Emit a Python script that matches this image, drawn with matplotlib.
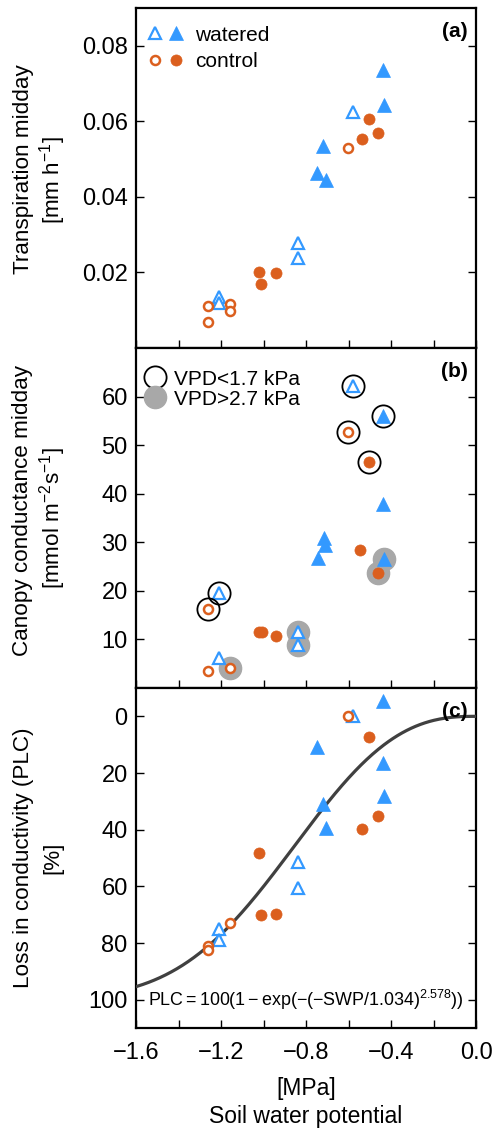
import matplotlib
matplotlib.use("Agg")
import matplotlib.pyplot as plt
import numpy as np
from matplotlib.lines import Line2D
from matplotlib.legend_handler import HandlerTuple

plt.rcParams["font.family"] = ["Liberation Sans", "DejaVu Sans"]
plt.rcParams["mathtext.fontset"] = "custom"
plt.rcParams["mathtext.rm"] = "Liberation Sans"
plt.rcParams["mathtext.it"] = "Liberation Sans:italic"
plt.rcParams["mathtext.bf"] = "Liberation Sans:bold"

BLUE = "#3399FF"
ORANGE = "#DB5F1E"
GREY = "#A8A8A8"

# (a) transpiration midday [mm h-1]
a_wat_open_x = [-1.209, -1.209, -0.839, -0.839, -0.580]
a_wat_open_y = [0.0135, 0.0118, 0.0279, 0.0239, 0.0626]
a_wat_fill_x = [-0.439, -0.431, -0.718, -0.750, -0.707]
a_wat_fill_y = [0.0736, 0.0643, 0.0535, 0.0462, 0.0445]
a_con_open_x = [-1.263, -1.263, -1.158, -1.158, -0.601]
a_con_open_y = [0.0112, 0.0069, 0.0116, 0.0099, 0.0530]
a_con_fill_x = [-1.020, -1.012, -0.941, -0.502, -0.538, -0.460]
a_con_fill_y = [0.0200, 0.0169, 0.0198, 0.0607, 0.0552, 0.0570]

# (b) canopy conductance midday [mmol m-2 s-1]
b_wat_open_x = [-0.580, -1.209, -0.839, -0.839, -1.209]
b_wat_open_y = [62.2, 19.5, 11.5, 8.9, 6.1]
b_wat_fill_x = [-0.439, -0.439, -0.714, -0.709, -0.745, -0.431]
b_wat_fill_y = [56.0, 37.8, 30.8, 29.4, 26.7, 26.6]
b_con_open_x = [-0.601, -1.263, -1.263, -1.158]
b_con_open_y = [52.8, 16.3, 3.4, 4.2]
b_con_fill_x = [-0.502, -0.545, -0.460, -1.020, -1.005, -0.941]
b_con_fill_y = [46.5, 28.5, 23.6, 11.6, 11.6, 10.7]
low_vpd_x = [-0.580, -0.439, -0.601, -0.502, -1.209, -1.263]
low_vpd_y = [62.2, 56.0, 52.8, 46.5, 19.5, 16.3]
high_vpd_x = [-0.431, -0.460, -0.839, -0.839, -1.158]
high_vpd_y = [26.6, 23.6, 11.5, 8.9, 4.2]

# (c) loss in conductivity [%]
c_wat_open_x = [-0.580, -0.839, -0.839, -1.209, -1.209]
c_wat_open_y = [0.0, 51.3, 60.5, 75.1, 78.9]
c_wat_fill_x = [-0.439, -0.750, -0.439, -0.431, -0.718, -0.707]
c_wat_fill_y = [-5.5, 10.9, 16.4, 28.2, 31.1, 39.3]
c_con_open_x = [-0.601, -1.158, -1.263, -1.263]
c_con_open_y = [0.0, 72.9, 81.0, 82.4]
c_con_fill_x = [-0.502, -0.460, -0.538, -1.020, -1.012, -0.941]
c_con_fill_y = [7.3, 35.2, 39.7, 48.3, 70.2, 69.8]

# fitted vulnerability curve
plc_b = 1.034
plc_c = 2.578

x_ticks = [-1.6, -1.4, -1.2, -1.0, -0.8, -0.6, -0.4, -0.2, 0.0]
x_labels = ["\u22121.6", "", "\u22121.2", "", "\u22120.8", "", "\u22120.4", "", "0.0"]


def draw_groups(ax, wo, wf, co, cf):
    ax.plot(*wo, ls="none", marker="^", ms=9, mfc="white", mec=BLUE, mew=1.6, zorder=4)
    ax.plot(*wf, ls="none", marker="^", ms=10, mfc=BLUE, mec=BLUE, mew=0.5, zorder=4)
    ax.plot(*co, ls="none", marker="o", ms=6.5, mfc="white", mec=ORANGE, mew=1.8, zorder=4)
    ax.plot(*cf, ls="none", marker="o", ms=8, mfc=ORANGE, mec=ORANGE, mew=0.5, zorder=4)


def style_axis(ax):
    ax.set_xlim(-1.6, 0.0)
    ax.set_xticks(x_ticks)
    ax.tick_params(axis="both", direction="in", length=6, width=1, labelsize=17, pad=6)
    ax.tick_params(axis="y", left=True, right=True)
    ax.tick_params(axis="x", top=False)
    for sp in ax.spines.values():
        sp.set_linewidth(1.6)


fig = plt.figure(figsize=(4.94, 11.38), dpi=100)
left, width = 136 / 494, 340 / 494
h = 340 / 1138
ax_a = fig.add_axes([left, 1 - 348 / 1138, width, h])
ax_b = fig.add_axes([left, 1 - 688 / 1138, width, h])
ax_c = fig.add_axes([left, 1 - 1028 / 1138, width, h])

# panel a
draw_groups(ax_a, (a_wat_open_x, a_wat_open_y), (a_wat_fill_x, a_wat_fill_y),
            (a_con_open_x, a_con_open_y), (a_con_fill_x, a_con_fill_y))
style_axis(ax_a)
ax_a.set_ylim(0, 0.09)
ax_a.set_yticks([0.02, 0.04, 0.06, 0.08])
ax_a.set_yticklabels(["0.02", "0.04", "0.06", "0.08"])
ax_a.set_xticklabels([])
h_wo = Line2D([], [], ls="none", marker="^", ms=9, mfc="white", mec=BLUE, mew=1.6)
h_wf = Line2D([], [], ls="none", marker="^", ms=10, mfc=BLUE, mec=BLUE, mew=0.5)
h_co = Line2D([], [], ls="none", marker="o", ms=6.5, mfc="white", mec=ORANGE, mew=1.8)
h_cf = Line2D([], [], ls="none", marker="o", ms=8, mfc=ORANGE, mec=ORANGE, mew=0.5)
ax_a.legend([(h_wo, h_wf), (h_co, h_cf)], ["watered", "control"],
            handler_map={tuple: HandlerTuple(ndivide=None, pad=0.2)},
            loc="upper left", bbox_to_anchor=(0.0, 0.979), frameon=False, fontsize=15,
            handlelength=1.82, handletextpad=0.5, labelspacing=0.35, borderaxespad=0.1)
ax_a.text(0.975, 0.958, "(a)", transform=ax_a.transAxes, ha="right", va="top",
          fontsize=15, fontweight="bold")

# panel b
ax_b.plot(high_vpd_x, high_vpd_y, ls="none", marker="o", ms=16, mfc=GREY, mec=GREY, zorder=2)
draw_groups(ax_b, (b_wat_open_x, b_wat_open_y), (b_wat_fill_x, b_wat_fill_y),
            (b_con_open_x, b_con_open_y), (b_con_fill_x, b_con_fill_y))
ax_b.plot(low_vpd_x, low_vpd_y, ls="none", marker="o", ms=16, mfc="none", mec="black",
          mew=1.3, zorder=5)
style_axis(ax_b)
ax_b.set_ylim(0, 70)
ax_b.set_yticks([10, 20, 30, 40, 50, 60])
ax_b.set_xticklabels([])
h_low = Line2D([], [], ls="none", marker="o", ms=16, mfc="none", mec="black", mew=1.3)
h_high = Line2D([], [], ls="none", marker="o", ms=16, mfc=GREY, mec=GREY)
ax_b.legend([h_low, h_high], ["VPD<1.7 kPa", "VPD>2.7 kPa"], loc="upper left",
            bbox_to_anchor=(0.0, 0.962), frameon=False, fontsize=15, handlelength=1.0,
            handletextpad=0.4, labelspacing=0.05, borderaxespad=0.02)
ax_b.text(0.975, 0.958, "(b)", transform=ax_b.transAxes, ha="right", va="top",
          fontsize=15, fontweight="bold")

# panel c
swp = np.linspace(-1.6, 0.0, 300)
plc = 100 * (1 - np.exp(-((-swp / plc_b) ** plc_c)))
ax_c.plot(swp, plc, color="#404040", lw=2.3, zorder=3)
draw_groups(ax_c, (c_wat_open_x, c_wat_open_y), (c_wat_fill_x, c_wat_fill_y),
            (c_con_open_x, c_con_open_y), (c_con_fill_x, c_con_fill_y))
style_axis(ax_c)
ax_c.set_ylim(110, -10)
ax_c.set_yticks([0, 20, 40, 60, 80, 100])
ax_c.set_xticklabels(x_labels)
ax_c.tick_params(axis="x", pad=10)
ax_c.text(-0.8, 100, r"$\mathrm{PLC} = 100(1 - \mathrm{exp}(-(-\mathrm{SWP}/1.034)^{2.578}))$",
          ha="center", va="center", fontsize=12.9,
          bbox=dict(boxstyle="square,pad=0.05", fc="white", ec="none"), zorder=6)
ax_c.text(0.975, 0.958, "(c)", transform=ax_c.transAxes, ha="right", va="top",
          fontsize=15, fontweight="bold", zorder=7)

# y labels (two lines each)
for y1, y2, l1, l2 in [(169, 180, "Transpiration midday", r"[mm h$^{-1}$]"),
                       (511, 518, "Canopy conductance midday", r"[mmol m$^{-2}$s$^{-1}$]"),
                       (858, 858, "Loss in conductivity (PLC)", "[%]")]:
    fig.text(23 / 494, 1 - y1 / 1138, l1, rotation=90, ha="center", va="center", fontsize=16.2)
    fig.text(53 / 494, 1 - y2 / 1138, l2, rotation=90, ha="center", va="center", fontsize=16.2)

fig.text(306 / 494, 1 - 1088 / 1138, "[MPa]", ha="center", va="center", fontsize=16.5)
fig.text(306 / 494, 1 - 1117 / 1138, "Soil water potential", ha="center", va="center", fontsize=16.5)

fig.savefig("out.png", dpi=100)
